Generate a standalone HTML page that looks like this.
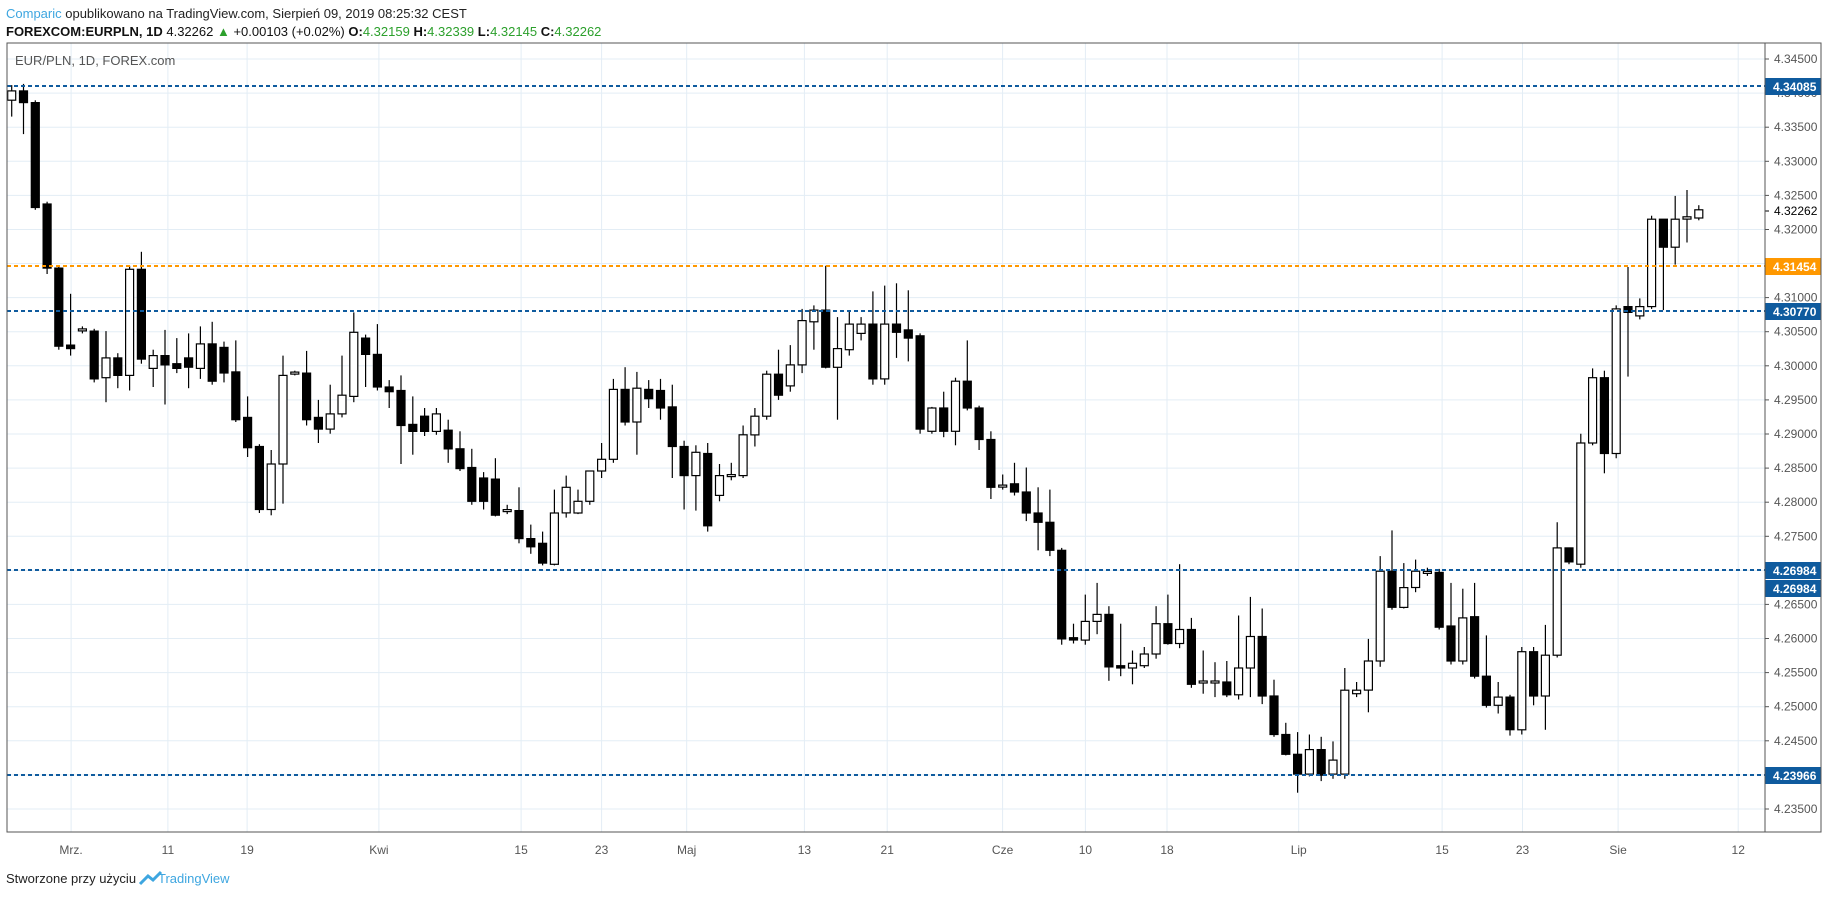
<!DOCTYPE html>
<html><head><meta charset="utf-8"><style>
body{margin:0;background:#fff;width:1828px;height:898px;overflow:hidden;font-family:"Liberation Sans",sans-serif}
svg{position:absolute;left:0;top:0}
</style></head><body>
<svg id="s" width="1828" height="898" xmlns="http://www.w3.org/2000/svg"></svg>
<script>
const S=1.1658,svg=document.getElementById('s');let h='';
const L=7,R=1765,T=43,B=832;
function py(p){return 59+(4.345-p)/0.005*34.09;}
// grid
const dates=[[61,'Mrz.'],[144,'11'],[212,'19'],[325,'Kwi'],[447,'15'],[516,'23'],[589,'Maj'],[690,'13'],[761,'21'],[860,'Cze'],[931,'10'],[1001,'18'],[1114,'Lip'],[1237,'15'],[1306,'23'],[1388,'Sie'],[1491,'12']];
for(const[d,t]of dates){const x=(d*S).toFixed(1);h+=`<line x1="${x}" y1="${T}" x2="${x}" y2="${B}" stroke="#e3edf5"/>`;h+=`<text x="${x}" y="854" font-size="12" fill="#555" text-anchor="middle">${t}</text>`;}
for(let i=0;i<=22;i++){const p=4.345-i*0.005,y=py(p).toFixed(1);h+=`<line x1="${L}" y1="${y}" x2="${R}" y2="${y}" stroke="#e3edf5"/><line x1="${R}" y1="${y}" x2="${R+4}" y2="${y}" stroke="#555"/><text x="${R+9}" y="${+y+4}" font-size="12" fill="#555">${p.toFixed(5)}</text>`;}
// candles [type, bodyTop, bodyBot, wickTop, wickBot]
const c=`W 78 86 73 100;B 78 88 72 115;B 88 178 86 180;B 175 230 173 235;B 230 297 228 300;B 296 299 252 305;D 283 283 280 286;B 284 325 282 328;W 307 324 284 345;B 307 322 303 333;W 231 322 228 335;B 231 308 216 312;W 305 316 300 332;B 305 313 283 347;B 312 316 290 320;B 307 315 286 333;W 295 316 280 325;B 295 327 276 330;B 298 320 293 328;B 319 360 292 362;B 358 384 340 392;B 383 437 381 440;W 398 437 386 442;W 322 398 305 432;D 320 320 318 322;B 320 360 301 365;B 358 368 343 380;W 355 368 330 372;W 339 355 305 358;W 285 340 268 345;B 290 304 287 332;B 304 332 278 335;B 332 336 326 350;B 335 365 322 398;B 364 370 340 390;B 357 370 350 374;W 355 370 350 373;B 369 385 360 397;B 385 402 370 404;B 401 430 385 433;B 410 430 405 437;B 411 442 393 443;D 438 438 433 441;B 438 462 418 466;B 462 469 450 475;B 466 483 456 485;W 440 484 420 485;W 418 440 408 444;W 430 440 420 441;W 404 430 404 433;W 394 404 380 410;W 334 394 325 397;B 334 362 315 365;W 333 362 319 390;B 334 342 326 350;B 335 350 325 360;B 349 383 330 410;B 383 408 378 437;W 388 408 382 438;B 389 451 380 456;W 408 425 398 430;D 408 408 397 412;W 373 408 365 410;W 357 373 350 383;W 321 357 318 360;B 321 339 300 343;W 313 331 296 336;W 275 313 265 320;W 266 276 262 300;B 266 315 228 316;W 299 315 272 360;W 278 300 266 305;W 278 286 272 292;B 278 325 250 330;W 278 325 245 330;B 278 285 243 307;B 283 290 249 310;B 288 368 286 372;W 350 370 349 372;B 350 370 336 375;W 327 370 324 382;B 327 350 292 352;B 350 377 348 386;B 377 418 370 428;D 417 417 407 420;B 415 422 397 425;B 422 440 401 447;B 440 448 418 472;B 448 472 420 477;B 472 548 470 553;B 547 549 535 552;W 533 549 510 553;W 527 533 500 544;B 527 572 520 584;B 571 573 535 580;W 569 573 558 587;W 561 571 555 573;W 535 561 520 565;B 535 552 510 553;W 540 552 484 556;B 540 587 530 590;D 585 585 558 595;D 585 585 568 598;B 585 596 567 598;W 573 596 528 600;W 546 573 512 598;B 546 597 522 604;B 597 630 583 632;B 630 647 620 648;B 647 664 628 680;W 643 664 630 666;B 643 665 632 670;W 652 664 636 668;W 592 664 573 668;W 592 595 585 598;W 567 592 548 611;W 490 567 477 572;B 490 521 455 523;W 504 521 483 522;W 490 504 480 508;D 491 491 487 494;B 491 538 488 540;B 537 567 500 570;W 530 567 505 570;B 529 580 500 582;B 580 605 545 607;W 598 605 585 612;B 598 626 596 631;W 559 626 555 630;B 559 597 555 605;W 562 597 536 626;W 470 562 448 564;B 470 482 470 484;W 380 484 372 487;W 324 380 316 382;B 324 389 318 406;W 265 389 262 393;B 263 268 229 323;W 263 271 256 274;W 188 263 185 265;B 188 212 188 266;W 188 212 168 227;W 186 188 163 208;W 180 187 176 189`.split(';');
c.forEach((s,k)=>{const a=s.split(' ');const x=(10+k*10.12)*S;let t=+a[1]*S,b=+a[2]*S;const wt=+a[3]*S,wb=+a[4]*S;if(b-t<2){t-=1;b+=1;}
h+=`<line x1="${x.toFixed(1)}" y1="${wt.toFixed(1)}" x2="${x.toFixed(1)}" y2="${wb.toFixed(1)}" stroke="#000" stroke-width="1.2"/>`;
h+=`<rect x="${(x-4).toFixed(1)}" y="${t.toFixed(1)}" width="8" height="${(b-t).toFixed(1)}" fill="${a[0]=='B'?'#000':'#fff'}" stroke="#000" stroke-width="1.2"/>`;});
// lines
const lines=[[86,'#0f5b9e','4.34085'],[266,'#ff9800','4.31454'],[311,'#0f5b9e','4.30770'],[570,'#0f5b9e','4.26984'],[775,'#0f5b9e','4.23966']];
for(const[y,col,t]of lines){h+=`<line x1="${L}" y1="${y}" x2="${R}" y2="${y}" stroke="${col}" stroke-width="2" stroke-dasharray="4,3"/><rect x="${R}" y="${y-8}" width="56" height="17" fill="${col}"/><text x="${R+8}" y="${y+5}" font-size="12" font-weight="bold" fill="#fff">${t}</text>`;}
h+=`<rect x="${R}" y="580" width="56" height="17" fill="#0f5b9e"/><text x="${R+8}" y="593" font-size="12" font-weight="bold" fill="#fff">4.26984</text>`;
h+=`<rect x="${R+1}" y="203" width="55" height="16" fill="#fff"/><line x1="${R}" y1="211" x2="${R+4}" y2="211" stroke="#000"/><text x="${R+9}" y="215" font-size="12" fill="#000">4.32262</text>`;
// frame
h+=`<rect x="${L}" y="${T}" width="${1821-L}" height="${B-T}" fill="none" stroke="#555"/><line x1="${R}" y1="${T}" x2="${R}" y2="${B}" stroke="#555"/>`;
h+=`<text x="15" y="65" font-size="13" fill="#555">EUR/PLN, 1D, FOREX.com</text>`;
h+=`<text x="6" y="18" font-size="13"><tspan fill="#3ea6e0">Comparic</tspan><tspan fill="#222"> opublikowano na TradingView.com, Sierpień 09, 2019 08:25:32 CEST</tspan></text>`;
h+=`<text x="6" y="36" font-size="13" fill="#111"><tspan font-weight="bold">FOREXCOM:EURPLN, 1D</tspan> 4.32262 <tspan fill="#2ca02c">▲</tspan> +0.00103 (+0.02%) <tspan font-weight="bold">O:</tspan><tspan fill="#2ca02c">4.32159</tspan> <tspan font-weight="bold">H:</tspan><tspan fill="#2ca02c">4.32339</tspan> <tspan font-weight="bold">L:</tspan><tspan fill="#2ca02c">4.32145</tspan> <tspan font-weight="bold">C:</tspan><tspan fill="#2ca02c">4.32262</tspan></text>`;
h+=`<text x="6" y="883" font-size="13" fill="#222">Stworzone przy użyciu</text><path d="M140 884 l8 -8 l5 4 l8 -8" stroke="#3ea6e0" stroke-width="3" fill="none"/><text x="158" y="883" font-size="13" fill="#3ea6e0">TradingView</text>`;
svg.innerHTML=h;
</script>
</body></html>
